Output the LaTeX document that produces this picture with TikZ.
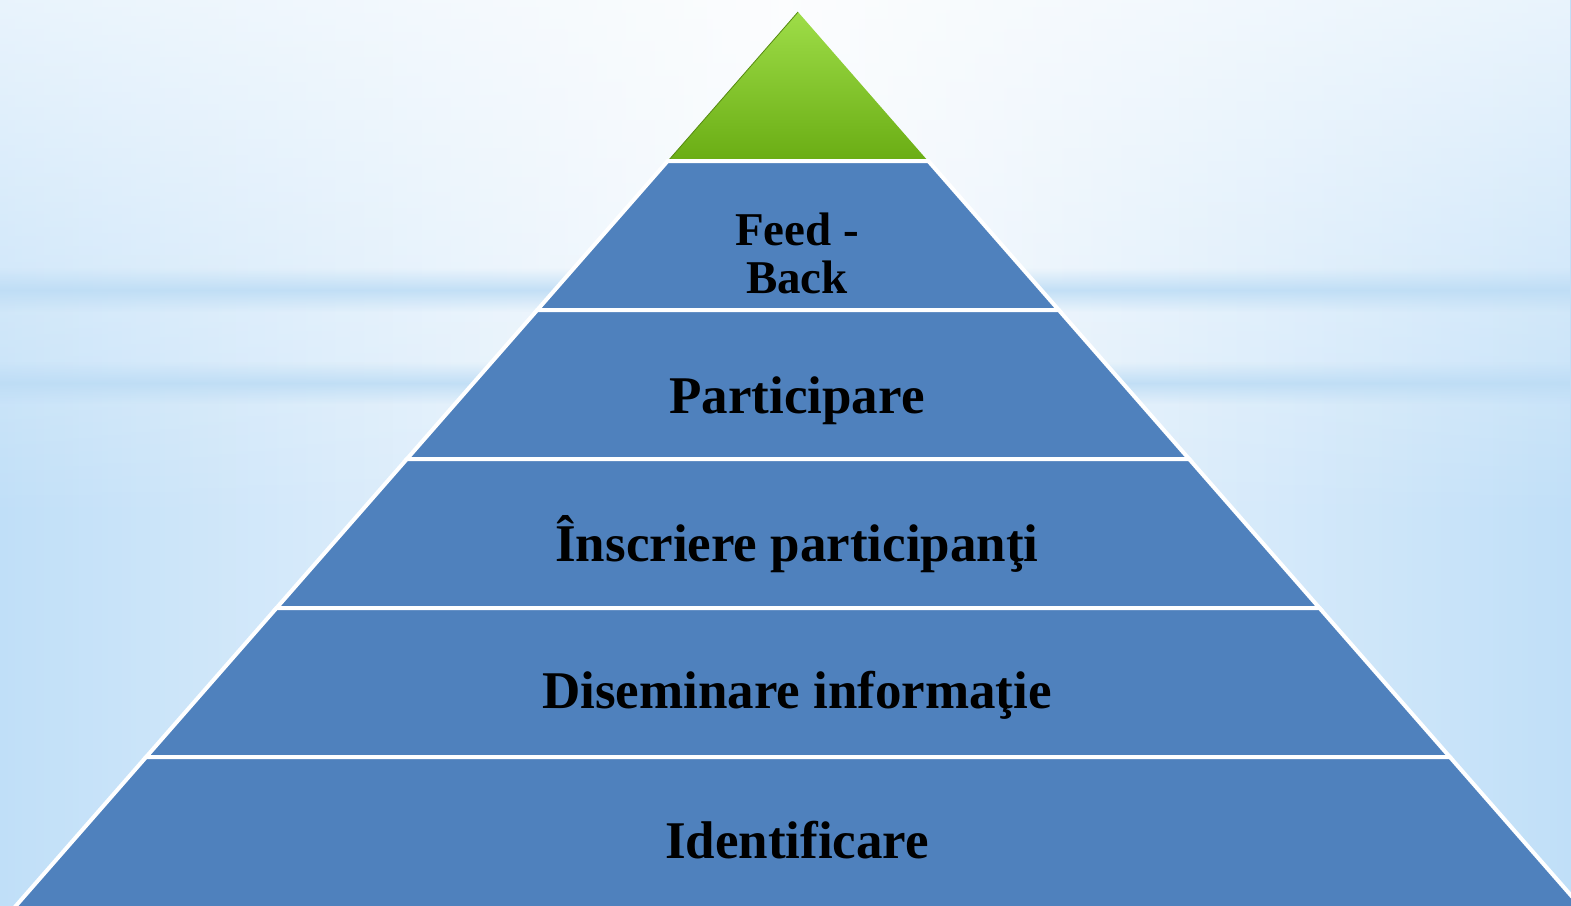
\documentclass[tikz,border=0pt]{standalone}
\usepackage{fontspec}
\setmainfont{Liberation Serif}
\usetikzlibrary{calc,fadings}
\definecolor{layerblue}{HTML}{4F81BD}
\definecolor{tiptop}{HTML}{9EDD48}
\definecolor{tipbottom}{HTML}{6AAD14}
\definecolor{bgside}{HTML}{C0DFF8}
\definecolor{bgmid}{HTML}{F7FAFD}
\definecolor{bgband}{HTML}{BCDCF5}
\tikzfading[name=band fade, top color=transparent!100, bottom color=transparent!100, middle color=transparent!15]
\tikzfading[name=top fade, top color=transparent!35, bottom color=transparent!100]
\tikzset{
  layer/.style={fill=layerblue, draw=white, line width=2pt, line join=miter},
  layertext/.style={font=\bfseries\fontsize{26.5}{28}\selectfont, text=black, anchor=base, inner sep=0pt},
  smalltext/.style={font=\bfseries\fontsize{23.5}{24}\selectfont, text=black, align=center, anchor=base, inner sep=0pt}
}

\begin{document}
\begin{tikzpicture}[x=0.5pt,y=-0.5pt]

  \useasboundingbox (0,0) rectangle (1571,906);
  \shade [left color=bgside, right color=bgside, middle color=bgmid] (0,0) rectangle (1571,906);
  \fill [white, path fading=top fade] (0,0) rectangle (1571,520);
  \fill [bgband, path fading=band fade] (0,268) rectangle (1571,312);
  \fill [bgband, path fading=band fade] (0,362) rectangle (1571,404);

  \coordinate (apex) at (798,12);

  \shade [top color=tiptop, bottom color=tipbottom] (apex) -- ($(apex)+(130,149)$) -- ($(apex)+(-130,149)$) -- cycle;
  \draw [tipbottom!80!black, line width=0.4pt] (apex) -- ($(apex)+(-130,149)$);

  \foreach \ytop/\ybot in {161/310, 310/459, 459/608, 608/757, 757/925} {
    \pgfmathsetmacro\wtop{0.875*(\ytop-12)}
    \pgfmathsetmacro\wbot{0.875*(\ybot-12)}
    \path [layer] ($(apex)+(-\wtop,\ytop-12)$) -- ($(apex)+(\wtop,\ytop-12)$)
      -- ($(apex)+(\wbot,\ybot-12)$) -- ($(apex)+(-\wbot,\ybot-12)$) -- cycle;
  }

  \node [smalltext] at (797,293) (feedback) {Feed -\\Back};
  \node [layertext] at (797,413) (particip) {Participare};
  \node [layertext] at (797,561) (inscriere) {Înscriere participanţi};
  \node [layertext] at (797,708) (disemin) {Diseminare informaţie};
  \node [layertext] at (797,858) (ident) {Identificare};

\end{tikzpicture}
\end{document}
